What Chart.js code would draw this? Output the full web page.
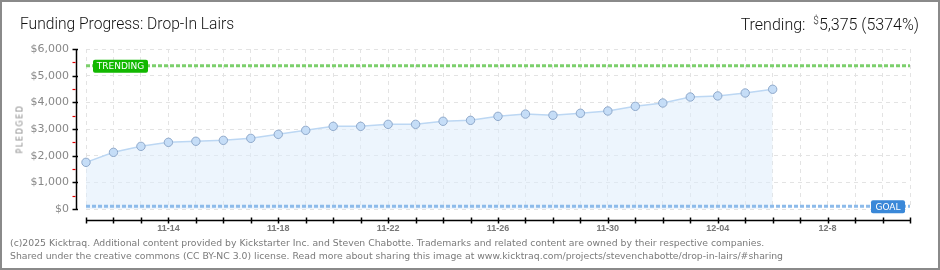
<!DOCTYPE html>
<html>
<head>
<meta charset="utf-8">
<script src="https://cdn.jsdelivr.net/npm/chart.js@4.4.1/dist/chart.umd.min.js"></script>
<style>
  html,body{margin:0;padding:0;background:#fff;}
  #wrap{position:relative;width:940px;height:270px;overflow:hidden;background:#fff;}
  #c{position:absolute;left:0;top:0;}
  #frame{position:absolute;left:0;top:0;width:940px;height:270px;box-sizing:border-box;border:2px solid #8a8a8a;pointer-events:none;}
  #title{position:absolute;left:20px;top:14px;font-family:Roboto,"DejaVu Sans",sans-serif;font-weight:300;font-size:15.6px;line-height:20px;color:#111;white-space:nowrap;}
  #trend{position:absolute;right:21px;top:11px;font-family:Roboto,"DejaVu Sans",sans-serif;font-weight:300;font-size:16px;line-height:20px;color:#111;white-space:nowrap;}
  #trend sup{font-size:10px;vertical-align:6px;margin-left:4px;}
  #ylab{position:absolute;left:20px;top:129px;transform:translate(-50%,-50%) rotate(-90deg);font-family:"DejaVu Sans",sans-serif;font-size:8px;letter-spacing:1.6px;color:#888;white-space:nowrap;}
  #foot{position:absolute;left:10px;top:237px;font-family:"DejaVu Sans",sans-serif;font-size:9.3px;line-height:12.5px;color:#7a7a7a;white-space:nowrap;}
</style>
</head>
<body>
<div id="wrap">
  <canvas id="c" width="940" height="270"></canvas>
  <div id="title">Funding Progress: Drop-In Lairs</div>
  <div id="trend">Trending: <sup>$</sup>5,375 (5374%)</div>
  <div id="ylab">PLEDGED</div>
  <div id="foot">(c)2025 Kicktraq. Additional content provided by Kickstarter Inc. and Steven Chabotte. Trademarks and related content are owned by their respective companies.<br>Shared under the creative commons (CC BY-NC 3.0) license. Read more about sharing this image at www.kicktraq.com/projects/stevenchabotte/drop-in-lairs/#sharing</div>
  <div id="frame"></div>
</div>
<script>
const dates = ['11-11','11-12','11-13','11-14','11-15','11-16','11-17','11-18','11-19','11-20',
  '11-21','11-22','11-23','11-24','11-25','11-26','11-27','11-28','11-29','11-30',
  '12-01','12-02','12-03','12-04','12-05','12-06','12-07','12-8','12-09','12-10','12-11'];
const xTickLabels = ['11-14','11-18','11-22','11-26','11-30','12-04','12-8'];
const pledged = [1750, 2125, 2350, 2500, 2540, 2575, 2650, 2800, 2950, 3100, 3100, 3175, 3175,
  3290, 3325, 3475, 3560, 3515, 3590, 3675, 3850, 3975, 4200, 4240, 4350, 4490];
const goalValue = 100;
const trendingValue = 5375;
const yTickValues = [0, 1000, 2000, 3000, 4000, 5000, 6000];

const goalLine = dates.map(() => goalValue);
const trendLine = dates.map(() => trendingValue);

function roundRect(ctx, x, y, w, h, r) {
  ctx.beginPath();
  ctx.moveTo(x + r, y); ctx.lineTo(x + w - r, y); ctx.quadraticCurveTo(x + w, y, x + w, y + r);
  ctx.lineTo(x + w, y + h - r); ctx.quadraticCurveTo(x + w, y + h, x + w - r, y + h);
  ctx.lineTo(x + r, y + h); ctx.quadraticCurveTo(x, y + h, x, y + h - r);
  ctx.lineTo(x, y + r); ctx.quadraticCurveTo(x, y, x + r, y); ctx.closePath();
}

const overlay = {
  id: 'overlay',
  afterDatasetsDraw(chart) {
    const ctx = chart.ctx, xs = chart.scales.x, ys = chart.scales.y, a = chart.chartArea;
    ctx.save();
    const ax = Math.round(a.left - 10) + 0.5;
    ctx.strokeStyle = '#000'; ctx.lineWidth = 1.5;
    ctx.beginPath(); ctx.moveTo(ax, ys.getPixelForValue(6000)); ctx.lineTo(ax, ys.getPixelForValue(0) + 1); ctx.stroke();
    yTickValues.forEach(v => {
      const y = Math.round(ys.getPixelForValue(v)) + 0.5;
      ctx.beginPath(); ctx.moveTo(ax - 4, y); ctx.lineTo(ax + 1.5, y); ctx.stroke();
    });
    ctx.strokeStyle = '#e00000'; ctx.lineWidth = 1.2;
    for (let v = 500; v < 6000; v += 1000) {
      const y = Math.round(ys.getPixelForValue(v)) + 0.5;
      ctx.beginPath(); ctx.moveTo(ax - 4, y); ctx.lineTo(ax - 1, y); ctx.stroke();
    }
    const ay = Math.round(a.bottom + 11) + 0.5;
    ctx.strokeStyle = '#000'; ctx.lineWidth = 1.5;
    ctx.beginPath(); ctx.moveTo(xs.getPixelForValue(0), ay); ctx.lineTo(xs.getPixelForValue(dates.length - 1) + 1, ay); ctx.stroke();
    dates.forEach((d, i) => {
      const x = Math.round(xs.getPixelForValue(i)) + 0.5;
      ctx.beginPath(); ctx.moveTo(x, ay - 3); ctx.lineTo(x, ay + 3); ctx.stroke();
    });
    const badge = (text, x, y, w, h, color) => {
      ctx.fillStyle = color;
      roundRect(ctx, x, y, w, h, 2);
      ctx.fill();
      ctx.fillStyle = '#fff';
      ctx.font = '9px "DejaVu Sans", sans-serif';
      ctx.textAlign = 'center'; ctx.textBaseline = 'middle';
      ctx.fillText(text, x + w / 2, y + h / 2 + 0.5);
    };
    const ty = ys.getPixelForValue(trendingValue);
    badge('TRENDING', a.left + 7, ty - 6, 55, 13, '#12b800');
    const gy = ys.getPixelForValue(goalValue);
    badge('GOAL', a.right - 39, gy - 6, 34, 13, '#3a88d8');
    ctx.restore();
  }
};

new Chart(document.getElementById('c'), {
  type: 'line',
  data: {
    labels: dates,
    datasets: [
      { data: trendLine, borderColor: '#7ccf6c', borderWidth: 3, borderDash: [4, 2], pointRadius: 0, fill: false, order: 0 },
      { data: goalLine, borderColor: '#8dbbea', borderWidth: 3, borderDash: [4, 2], pointRadius: 0, fill: false, order: 0 },
      { data: pledged, borderColor: '#bcd7f3', borderWidth: 1.5, backgroundColor: 'rgba(222,236,252,0.55)',
        fill: 'origin', tension: 0, pointRadius: 4.2, pointBackgroundColor: '#c5ddf7', pointBorderColor: '#8ea8ca',
        pointBorderWidth: 1, order: 1 }
    ]
  },
  plugins: [overlay],
  options: {
    responsive: false, animation: false, devicePixelRatio: 1,
    layout: { padding: { top: 49, right: 30, left: 0, bottom: 0 } },
    plugins: { legend: { display: false }, tooltip: { enabled: false } },
    scales: {
      x: {
        offset: false,
        afterFit: s => { s.height = 61; },
        grid: { color: '#e3e3e3', drawTicks: false },
        border: { display: false, dash: [4, 4] },
        ticks: {
          autoSkip: false, maxRotation: 0, padding: 14, color: '#777',
          font: { family: '"Liberation Sans", sans-serif', size: 9, weight: 'bold' },
          callback: (v, i) => xTickLabels.includes(dates[i]) ? dates[i] : ''
        }
      },
      y: {
        min: 0, max: 6000,
        afterFit: s => { s.width = 86; },
        grid: { color: '#e3e3e3', drawTicks: false },
        border: { display: false, dash: [4, 4] },
        ticks: {
          stepSize: 1000, padding: 17, color: '#888',
          font: { family: '"DejaVu Sans", sans-serif', size: 11 },
          callback: v => '$' + v.toLocaleString('en-US')
        }
      }
    }
  }
});
</script>
</body>
</html>
